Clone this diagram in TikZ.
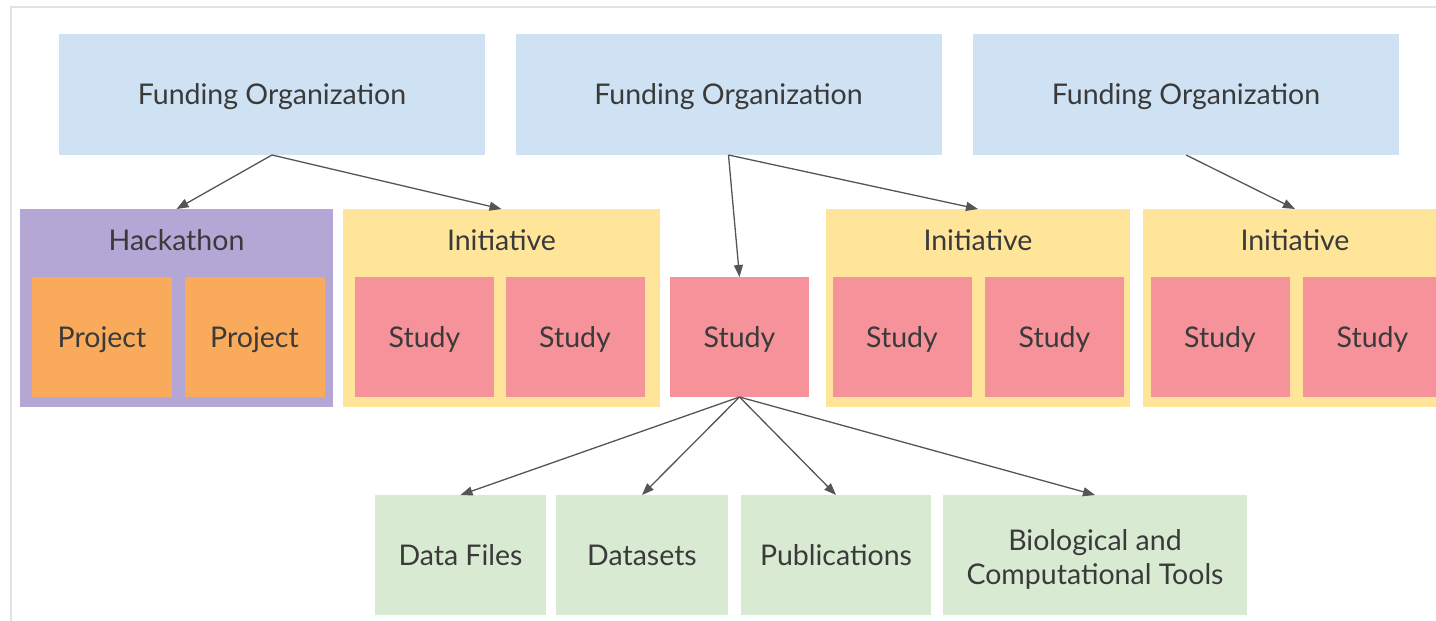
\documentclass[tikz,border=0pt]{standalone}
\usepackage{fontspec}
\setmainfont{Lato}
\usetikzlibrary{arrows.meta}
\definecolor{fblue}{HTML}{CFE2F3}
\definecolor{hpurple}{HTML}{B4A7D6}
\definecolor{porange}{HTML}{F9AB5B}
\definecolor{iyellow}{HTML}{FFE599}
\definecolor{spink}{HTML}{F5929A}
\definecolor{ogreen}{HTML}{D9EAD3}
\definecolor{txt}{HTML}{3A3A3A}
\definecolor{arrc}{HTML}{555555}
\definecolor{framec}{HTML}{E2E2EA}
\begin{document}
\begin{tikzpicture}[x=1pt,y=-1pt,
  plain/.style={rectangle,inner sep=0pt,outer sep=0pt,text=txt,font=\fontsize{28.5}{34}\selectfont,align=center},
  box/.style={plain,text height=20.5pt,text depth=0pt},
  fund/.style={box,fill=fblue,minimum width=426pt,minimum height=121pt},
  cont/.style={box,minimum height=198pt},
  tag/.style={box},
  stud/.style={box,fill=spink,minimum width=139pt,minimum height=120pt},
  proj/.style={box,fill=porange,minimum width=140pt,minimum height=120pt},
  outp/.style={box,fill=ogreen,minimum height=120pt},
  arr/.style={draw=arrc,line width=1.3pt,-{Triangle[length=12pt,width=9pt]}}
]
\useasboundingbox (0,0) rectangle (1436,621);
\clip (0,0) rectangle (1436,621);
\draw[framec,line width=2pt] (11,621) -- (11,7) -- (1440,7);

% funding organizations
\node[fund] (fo1) at (272,94.5) {Funding Organization};
\node[fund] (fo2) at (728.5,94.5) {Funding Organization};
\node[fund] (fo3) at (1186,94.5) {Funding Organization};

% hackathon
\node[cont,fill=hpurple,minimum width=313pt] (hack) at (176.5,308) {};
\node[tag] (hackl) at (176.5,240) {Hackathon};
\node[proj] (p1) at (102,337) {Project};
\node[proj] (p2) at (254.5,337) {Project};

% initiative 1
\node[cont,fill=iyellow,minimum width=317pt] (ini1) at (501.5,308) {};
\node[tag] (ini1l) at (501.5,240) {Initiative};
\node[stud] (s11) at (424.5,337) {Study};
\node[stud] (s12) at (575,337) {Study};

% standalone study
\node[stud] (st) at (739.5,337) {Study};

% initiative 2
\node[cont,fill=iyellow,minimum width=304pt] (ini2) at (978,308) {};
\node[tag] (ini2l) at (978,240) {Initiative};
\node[stud] (s21) at (902,337) {Study};
\node[stud] (s22) at (1054.5,337) {Study};

% initiative 3
\node[cont,fill=iyellow,minimum width=304pt] (ini3) at (1295,308) {};
\node[tag] (ini3l) at (1295,240) {Initiative};
\node[stud] (s31) at (1220,337) {Study};
\node[stud] (s32) at (1372.5,337) {Study};

% outputs
\node[outp,minimum width=171pt] (df) at (460.5,555) {Data Files};
\node[outp,minimum width=172pt] (ds) at (642,555) {Datasets};
\node[outp,minimum width=190pt] (pub) at (836,555) {Publications};
\node[plain,fill=ogreen,minimum height=120pt,minimum width=304pt,text height=58pt,text depth=0pt] (bio) at (1095,555) {Biological and\\Computational Tools};

% connectors
\draw[arr] (fo1.south) -- (hack.north);
\draw[arr] (fo1.south) -- (ini1.north);
\draw[arr] (fo2.south) -- (st.north);
\draw[arr] (fo2.south) -- (ini2.north);
\draw[arr] (fo3.south) -- (ini3.north);
\draw[arr] (st.south) -- (df.north);
\draw[arr] (st.south) -- (ds.north);
\draw[arr] (st.south) -- (pub.north);
\draw[arr] (st.south) -- (bio.north);
\end{tikzpicture}
\end{document}
